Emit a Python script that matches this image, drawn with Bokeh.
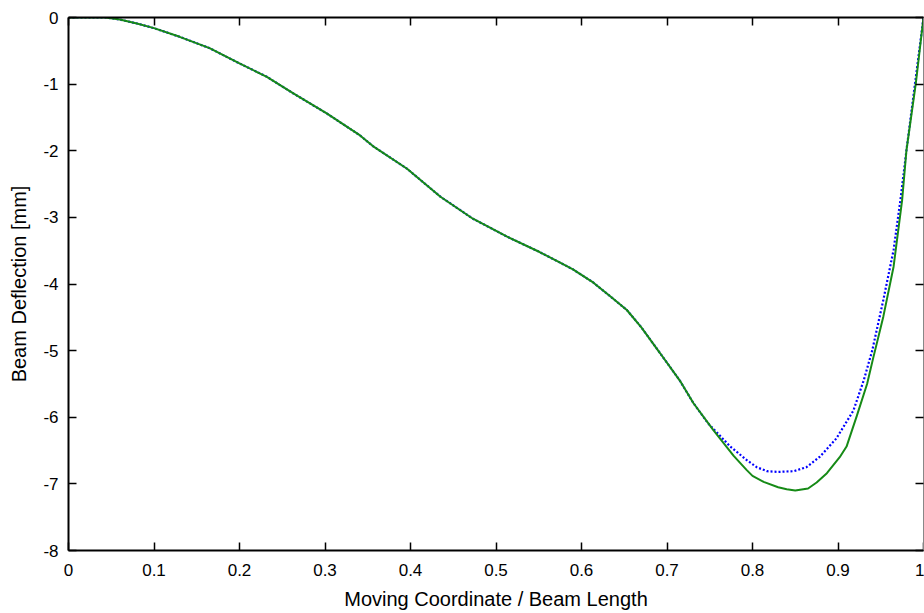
from bokeh.plotting import figure
from bokeh.models import Range1d, LinearAxis, FixedTicker
from bokeh.embed import file_html
from bokeh.resources import INLINE

# Deflection along the beam (green solid)
x_green = [0.0, 0.02, 0.043, 0.06, 0.08, 0.10, 0.13, 0.165, 0.20, 0.232, 0.263, 0.302,
           0.341, 0.356, 0.396, 0.435, 0.473, 0.513, 0.551, 0.575, 0.59, 0.614,
           0.635, 0.653, 0.67, 0.692, 0.715, 0.731, 0.754, 0.778, 0.793, 0.80, 0.813,
           0.83, 0.84, 0.85, 0.865, 0.875, 0.887, 0.902, 0.91, 0.922, 0.934, 0.941, 0.953,
           0.965, 0.975, 0.98, 0.991, 1.0]
y_green = [0.0, 0.0, 0.0, -0.03, -0.09, -0.16, -0.29, -0.46, -0.69, -0.89, -1.14, -1.44,
           -1.77, -1.93, -2.27, -2.69, -3.02, -3.29, -3.52, -3.68, -3.78, -3.98,
           -4.2, -4.39, -4.65, -5.04, -5.45, -5.79, -6.19, -6.58, -6.79, -6.88, -6.97,
           -7.05, -7.08, -7.10, -7.07, -6.98, -6.84, -6.6, -6.44, -5.98, -5.5, -5.12, -4.49,
           -3.74, -2.74, -2.0, -0.99, 0.0]

# Deflection along the beam (blue dotted)
x_blue = [0.0, 0.02, 0.043, 0.06, 0.08, 0.10, 0.13, 0.165, 0.20, 0.232, 0.263, 0.302,
          0.341, 0.356, 0.396, 0.435, 0.473, 0.513, 0.551, 0.575, 0.59, 0.614,
          0.635, 0.653, 0.67, 0.692, 0.715, 0.731, 0.748, 0.774, 0.793, 0.805, 0.817,
          0.83, 0.848, 0.863, 0.879, 0.898, 0.918, 0.93, 0.94, 0.953, 0.965, 0.973,
          0.98, 0.99, 1.0]
y_blue = [0.0, 0.0, 0.0, -0.03, -0.09, -0.16, -0.29, -0.46, -0.69, -0.89, -1.14, -1.44,
          -1.77, -1.93, -2.27, -2.69, -3.02, -3.29, -3.52, -3.68, -3.78, -3.98,
          -4.2, -4.39, -4.65, -5.04, -5.45, -5.79, -6.09, -6.44, -6.64, -6.75, -6.81,
          -6.82, -6.81, -6.75, -6.59, -6.32, -5.9, -5.45, -5.0, -4.24, -3.49, -2.74,
          -2.0, -1.0, 0.0]

x_ticks = [0.0, 0.1, 0.2, 0.3, 0.4, 0.5, 0.6, 0.7, 0.8, 0.9, 1.0]
x_tick_labels = ["0", "0.1", "0.2", "0.3", "0.4", "0.5", "0.6", "0.7", "0.8", "0.9", "1"]
y_ticks = [0, -1, -2, -3, -4, -5, -6, -7, -8]
y_tick_labels = ["0", "-1", "-2", "-3", "-4", "-5", "-6", "-7", "-8"]

FONT = "Liberation Sans"

p = figure(width=924, height=613, output_backend="svg", toolbar_location=None,
           x_range=Range1d(0, 1), y_range=Range1d(-8, 0),
           min_border_left=68, min_border_right=1, min_border_top=17,
           min_border_bottom=63, x_axis_location=None, y_axis_location=None)
p.outline_line_color = None
p.xgrid.visible = False
p.ygrid.visible = False
p.background_fill_color = "white"
p.border_fill_color = "white"

p.line(x_blue, y_blue, line_color="#0000ff", line_width=2.2, line_dash="2 2")
p.line(x_green, y_green, line_color="#168a16", line_width=2)


def style(ax, labels, ticks, show_labels=True, color="black", width=2):
    ax.ticker = FixedTicker(ticks=ticks)
    ax.axis_line_color = color
    ax.axis_line_width = width
    ax.major_tick_line_color = "black"
    ax.major_tick_line_width = 1.5
    ax.major_tick_in = 8
    ax.major_tick_out = 0
    ax.minor_tick_line_color = None
    if show_labels:
        ax.major_label_overrides = {t: l for t, l in zip(ticks, labels)}
        ax.major_label_text_font = FONT
        ax.major_label_text_font_size = "17px"
        ax.major_label_text_color = "black"
    else:
        ax.major_label_text_font_size = "0px"
        ax.major_label_standoff = 0
        ax.major_label_text_color = None


xb = LinearAxis(axis_label="Moving Coordinate / Beam Length")
style(xb, x_tick_labels, x_ticks)
xb.major_label_standoff = 13
xb.axis_label_text_font = FONT
xb.axis_label_text_font_size = "20px"
xb.axis_label_text_font_style = "normal"
xb.axis_label_text_color = "black"
xb.axis_label_standoff = 9
p.add_layout(xb, "below")

yl = LinearAxis(axis_label="Beam Deflection [mm]")
style(yl, y_tick_labels, y_ticks)
yl.major_label_standoff = 10
yl.axis_label_text_font = FONT
yl.axis_label_text_font_size = "20px"
yl.axis_label_text_font_style = "normal"
yl.axis_label_text_color = "black"
yl.axis_label_standoff = 10
p.add_layout(yl, "left")

xt = LinearAxis()
style(xt, x_tick_labels, x_ticks, show_labels=False)
p.add_layout(xt, "above")

yr = LinearAxis()
style(yr, y_tick_labels, y_ticks, show_labels=False, color="#888888", width=1)
p.add_layout(yr, "right")

open("out.html", "w").write(file_html(p, INLINE))
